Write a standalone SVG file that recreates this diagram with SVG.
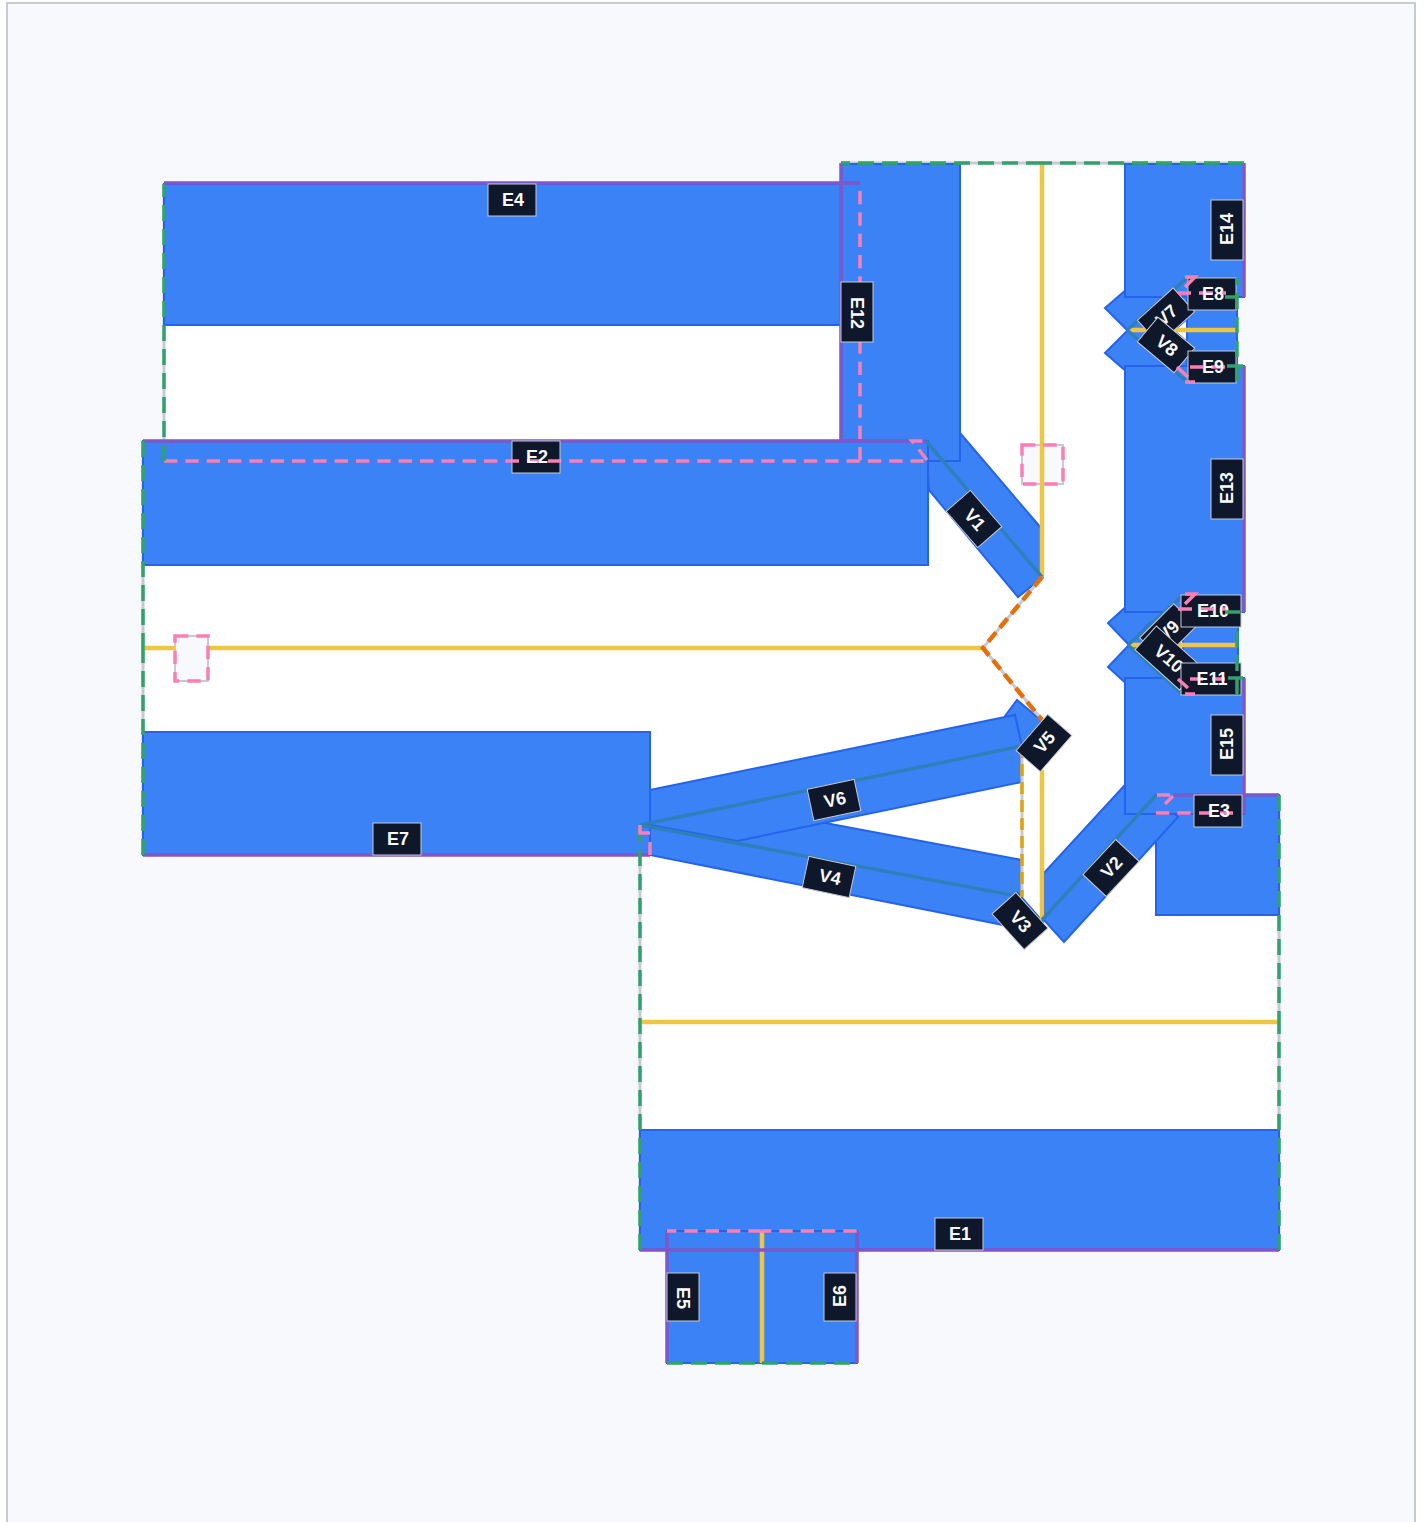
<svg xmlns="http://www.w3.org/2000/svg" width="1424" height="1522" viewBox="0 0 1424 1522">
<style>
.bg{fill:#f8f9fd;stroke:#c5cad6;stroke-width:2}
.f{fill:#fff}
.w{fill:#3b82f6;stroke:#2563eb;stroke-width:2}
.c{fill:none;stroke:#2f80ba;stroke-width:3.5}
.y{fill:none;stroke:#eec643;stroke-width:4.5}
.u{fill:none;stroke:#c5cad6;stroke-width:3}
.p{fill:none;stroke:#7e57c9;stroke-width:3.5}
.pk{fill:none;stroke:#f97fb4;stroke-width:3.5;stroke-dasharray:13.33 8}
.s{fill:none;stroke:#f97fb4;stroke-width:3.5}
.g{fill:none;stroke:#2fa36b;stroke-width:3.5;stroke-dasharray:16 8}
.o{fill:none;stroke:#e56f0a;stroke-width:4.5;stroke-dasharray:12 6}
.a{fill:none;stroke:#e0a30f;stroke-width:3.5;stroke-dasharray:12 6}
.v{fill:#f8f9fd;stroke:#c5cad6;stroke-width:2}
.lb{fill:#0f172a;stroke:#c5cad6;stroke-width:1}
text{font-family:"Liberation Sans",Arial,sans-serif;font-size:18px;font-weight:700;fill:#f8fafc;text-anchor:middle;dominant-baseline:central}
</style>
<rect class="bg" x="7" y="3" width="1408" height="1530"/>
<g id="floor">
<rect class="f" x="164" y="325" width="676" height="116"/>
<rect class="f" x="143" y="565" width="1000" height="167"/>
<rect class="f" x="928" y="163" width="197" height="410"/>
<rect class="f" x="650" y="732" width="500" height="400"/>
<rect class="f" x="640" y="855" width="639" height="275"/>
<rect class="f" x="1125" y="297" width="62" height="69"/>
<rect class="f" x="1125" y="612" width="62" height="66"/>
</g>
<path class="u" d="M164 184V461M143 441V855M640 826V1250M1279 795V1250M841 163H1244"/>
<g id="walls">
<polygon id="V1-wall" class="w" points="960,433 1041,528 1043,577 1018,597 929,490 926,441"/>
<rect id="E12-wall" class="w" x="841" y="164" width="119" height="297"/>
<rect id="E4-wall" class="w" x="164" y="184" width="696" height="141"/>
<rect id="E12-cover" x="841" y="165" width="118" height="295" fill="#3b82f6"/>
<rect id="E2-wall" class="w" x="143" y="441" width="785" height="124"/>
<polygon id="V7-wall" class="w" points="1105,308 1165,256 1209,300 1149,352"/>
<polygon id="V8-wall" class="w" points="1105,353 1165,405 1209,361 1149,309"/>
<rect id="E8-E9-wall" class="w" x="1187" y="278" width="50" height="104"/>
<polygon id="V9-wall" class="w" points="1108,623 1161,575 1203,619 1150,667"/>
<polygon id="V10-wall" class="w" points="1108,667 1161,715 1203,671 1150,623"/>
<rect id="E10-E11-wall" class="w" x="1183" y="595" width="55" height="100"/>
<rect id="E3-wall" class="w" x="1156" y="795" width="123" height="120"/>
<polygon id="V2-wall" class="w" points="1125,785 1157,794 1178,817 1064,942 1044,920 1044,873"/>
<rect id="E14-wall" class="w" x="1125" y="164" width="119" height="133"/>
<rect id="E13-wall" class="w" x="1125" y="366" width="119" height="246"/>
<rect id="E15-wall" class="w" x="1125" y="678" width="119" height="136"/>
<polygon id="V4-wall" class="w" points="650,790 820,822 1022,860 1022,897 1017,892 1043,922 1024,942 1003,925 650,855"/>
<polygon id="V5-wall" class="w" points="1005,716 1017,700 1043,722 1020,750"/>
<polygon id="V6-wall" class="w" points="650,790 1015,715 1022,746 1022,782 737,841 650,825"/>
<rect id="E7-wall" class="w" x="143" y="732" width="507" height="123"/>
<rect id="E1-wall" class="w" x="640" y="1130" width="639" height="120"/>
<rect id="E5-wall" class="w" x="667" y="1231" width="190" height="132"/>
</g>
<g id="voids">
<rect class="v" x="1022" y="445" width="41" height="39"/>
<rect class="v" x="175" y="636" width="33" height="45"/>
</g>
<g id="connectors">
<path class="y" d="M1042 164V577M143 648H175M208 648H983M1042 770V920M640 1022H1279M762 1231V1363M1127 330H1237M1130 645H1237"/>
<path class="c" d="M926 441L1042 577M1042 920L1157 794M640 825L1022 897M640 825L1022 746M1127 330L1187 278M1127 330L1187 382M1128 645L1181 597M1128 645L1181 693"/>
<path class="u" d="M1022 746V897M1042 577L983 648L1042 720"/>
<path class="a" d="M1022 746V897"/>
<path class="o" d="M1042 577L983 648L1042 720"/>
<path class="p" d="M164 183H860M841 163V441M143 441H926M143 855H650M640 1250H1279M667 1231V1363M857 1231V1363M1244 163V297M1244 366V612M1244 678V814M1173 795H1279"/>
<path class="pk" stroke-dashoffset="13.33" d="M860 183V461"/>
<path class="pk" d="M164 461H927M927 460L912 441H927M1022 445H1063V484H1022ZM175 636H208V681H175Z"/>
<path class="pk" stroke-dashoffset="4" d="M667 1231H762M762 1231H857"/>
</g>
<g id="V1" transform="translate(974 519) rotate(49)"><rect class="lb" x="-24" y="-16" width="48" height="32"/><text x="1">V1</text></g>
<g id="V2" transform="translate(1111 868) rotate(-47)"><rect class="lb" x="-24" y="-16" width="48" height="32"/><text x="1">V2</text></g>
<g id="V3" transform="translate(1020 921) rotate(48)"><rect class="lb" x="-24" y="-16" width="48" height="32"/><text x="1">V3</text></g>
<g id="V4" transform="translate(829 877) rotate(12)"><rect class="lb" x="-24" y="-16" width="48" height="32"/><text x="1">V4</text></g>
<g id="V5" transform="translate(1044 743) rotate(-49)"><rect class="lb" x="-24" y="-16" width="48" height="32"/><text x="1">V5</text></g>
<g id="V6" transform="translate(834 800) rotate(-12)"><rect class="lb" x="-24" y="-16" width="48" height="32"/><text x="1">V6</text></g>
<g id="V7" transform="translate(1166 316) rotate(-42)"><rect class="lb" x="-24" y="-16" width="48" height="32"/><text x="1">V7</text></g>
<g id="V8" transform="translate(1166 345) rotate(40)"><rect class="lb" x="-24" y="-16" width="48" height="32"/><text x="1">V8</text></g>
<g id="V9" transform="translate(1168 632) rotate(-45)"><rect class="lb" x="-24" y="-16" width="48" height="32"/><text x="1">V9</text></g>
<g id="V10" transform="translate(1168 658) rotate(42)"><rect class="lb" x="-30" y="-16" width="60" height="32"/><text x="1">V10</text></g>
<g id="E1" transform="translate(959 1234)"><rect class="lb" x="-24" y="-16" width="48" height="32"/><text x="1">E1</text></g>
<g id="E2" transform="translate(536 457)"><rect class="lb" x="-24" y="-16" width="48" height="32"/><path class="s" d="M-24 4H-17M-9 4H4M12 4H24"/><text x="1">E2</text></g>
<g id="E3" transform="translate(1218 811)"><rect class="lb" x="-24" y="-16" width="48" height="32"/><path class="s" d="M-19 2H-6M2 2H15"/><text x="1">E3</text></g>
<g id="E4" transform="translate(512 200)"><rect class="lb" x="-24" y="-16" width="48" height="32"/><text x="1">E4</text></g>
<g id="E5" transform="translate(683 1297) rotate(90)"><rect class="lb" x="-24" y="-16" width="48" height="32"/><text x="1">E5</text></g>
<g id="E6" transform="translate(840 1297) rotate(-90)"><rect class="lb" x="-24" y="-16" width="48" height="32"/><text x="1">E6</text></g>
<g id="E7" transform="translate(397 839)"><rect class="lb" x="-24" y="-16" width="48" height="32"/><text x="1">E7</text></g>
<g id="E8" transform="translate(1212 294)"><rect class="lb" x="-24" y="-16" width="48" height="32"/><path class="s" d="M-24 -1H-21M-13 -1H1M8 -1H14"/><text x="1">E8</text></g>
<g id="E9" transform="translate(1212 367)"><rect class="lb" x="-24" y="-16" width="48" height="32"/><path class="s" d="M-22 0H-9M-1 0H13"/><text x="1">E9</text></g>
<g id="E10" transform="translate(1211 611)"><rect class="lb" x="-30" y="-16" width="60" height="32"/><path class="s" d="M-30 -2H-19M-11 -2H2M10 -2H15"/><text x="2">E10</text></g>
<g id="E11" transform="translate(1211 679)"><rect class="lb" x="-30" y="-16" width="60" height="32"/><path class="s" d="M-21 0H-8M1 0H14"/><text x="1">E11</text></g>
<g id="E12" transform="translate(857 312) rotate(90)"><rect class="lb" x="-30" y="-16" width="60" height="32"/><text x="1">E12</text></g>
<g id="E13" transform="translate(1227 489) rotate(-90)"><rect class="lb" x="-30" y="-16" width="60" height="32"/><text x="1">E13</text></g>
<g id="E14" transform="translate(1227 230) rotate(-90)"><rect class="lb" x="-30" y="-16" width="60" height="32"/><text x="1">E14</text></g>
<g id="E15" transform="translate(1227 745) rotate(-90)"><rect class="lb" x="-30" y="-16" width="60" height="32"/><text x="1">E15</text></g>
<g id="overlay">
<path class="g" d="M164 461V184M143 441V648M143 855V648M640 826V1022M640 1250V1022M1279 795V1022M1279 1250V1022M1244 163H1042M1042 163H841M667 1363H762M762 1363H857M1237 381V278M1237 695V628"/>
<path class="g" style="stroke-dasharray:none" d="M1225 297H1237M1227 366H1243M1225 612H1240M1228 678H1243"/>
<path class="pk" d="M1156 813H1194"/>
<path class="s" d="M1157 795H1170M1173 796L1165 804M1185 277H1195L1185 287M1185 382H1195M1177 367L1188 377M1178 293H1188M1185 594H1195L1185 604M1185 694H1195M1178 679L1188 688M1178 609H1181M640 825V833H650M650 842V855"/>
</g>
</svg>
